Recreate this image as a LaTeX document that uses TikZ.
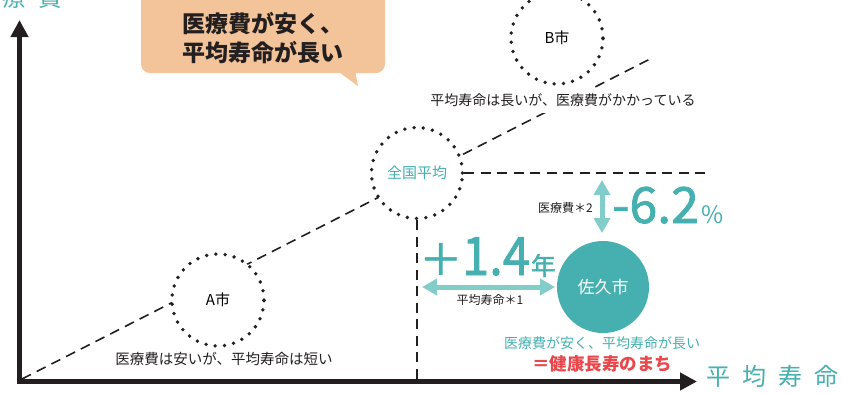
\documentclass[tikz,border=0pt]{standalone}
\usepackage{fontspec}
\usepackage{graphicx}
\setmainfont{Noto Sans CJK JP}
\newfontfamily\numfont[FakeBold=1.6]{Noto Sans CJK JP}
\usetikzlibrary{arrows.meta}
\pgfdeclarelayer{bg}
\pgfsetlayers{bg,main}
\definecolor{tealc}{HTML}{45B0AF}
\definecolor{lteal}{HTML}{80CDC9}
\definecolor{peach}{HTML}{F3C399}
\definecolor{redc}{HTML}{E8474C}
\definecolor{ink}{HTML}{231F20}
\newcommand{\fs}[1]{\fontsize{#1}{#1}\selectfont}
\begin{document}
\begin{tikzpicture}[x=1pt,y=-1pt,
  axisline/.style={line width=4.5pt, draw=ink, line join=miter,
    {Triangle[length=17pt,width=17pt]}-{Triangle[length=17pt,width=17pt]}},
  dashln/.style={draw=ink, line width=1.6pt, dash pattern=on 10pt off 6.5pt},
  dotcirc/.style={circle, minimum size=92pt, inner sep=0pt, draw=ink, line width=3.8pt,
    dash pattern=on 0pt off 9.3pt, line cap=round, fill=white, font=\fs{15}},
  lbl/.style={inner sep=0pt, text=ink, font=\fs{14}},
  small/.style={inner sep=0pt, text=ink, font=\fs{12}},
  tarrow/.style={draw=lteal, line width=5pt,
    {Triangle[length=15pt,width=16pt]}-{Triangle[length=15pt,width=16pt]}},
]
\useasboundingbox (0,0) rectangle (842,392);

% speech bubble
\node[fill=peach, rounded corners=9pt, minimum width=244pt, minimum height=83pt, inner sep=0pt] (bubble) at (263,31.5) {};
\fill[peach] (336,70) -- (358,86) -- (355,70) -- cycle;
\node[inner sep=0pt, align=center, font=\fs{23}\bfseries, text=ink] (bubtext) at (263,38)
  {医療費が安く、\\[6pt]平均寿命が長い};

% axes
\coordinate (corner) at (19.5,381.5);
\coordinate (ytip) at (19.5,20);
\coordinate (xtip) at (697,381.5);
\draw[axisline] (ytip) -- (corner) -- (xtip);
\node[anchor=base east, inner sep=0pt, text=tealc, font=\fs{24}] (ylab) at (63,6.5)
  {医\hspace{12pt}療\hspace{12pt}費};
\node[anchor=base west, inner sep=0pt, text=tealc, font=\fs{24}] (xlab) at (706,385.5)
  {平\hspace{12pt}均\hspace{12pt}寿\hspace{12pt}命};

% circles
\node[dotcirc] (B) at (557,38) {B市};
\node[dotcirc, minimum size=91pt, text=tealc] (zk) at (417,173) {全国平均};
\node[dotcirc] (A) at (218,300) {A市};
\node[circle, minimum size=92pt, inner sep=0pt, fill=tealc, text=white, font=\fs{17}] (saku) at (603,287) {佐久市};

% labels
\node[lbl, fill=white, inner sep=6pt] (btxt) at (563,100) {平均寿命は長いが、医療費がかかっている};
\node[lbl, font=\fs{14.5}] (atxt) at (224,359) {医療費は安いが、平均寿命は短い};
\node[lbl, text=tealc] (stxt) at (602,343) {医療費が安く、平均寿命が長い};
\node[inner sep=0pt, text=redc, font=\fs{17.5}\bfseries] (stxt2) at (602,364) {＝健康長寿のまち};
\node[small] (lifelbl) at (490,300) {平均寿命＊1};
\node[small, anchor=east] (costlbl) at (593,208) {医療費＊2};
\node[anchor=base west, inner sep=0pt, text=tealc, font=\fs{50}\numfont] (costval) at (612,223)
  {-6.2\kern3pt{\fs{24}\normalfont\%}};
\node[anchor=base west, inner sep=0pt, text=tealc, font=\fs{53}\numfont] (lifeval) at (419,275)
  {{\fs{43}＋}\scalebox{0.92}[1]{1.4}\kern1pt{\fs{25}年}};

% arrows
\coordinate (va1) at (602,180);
\coordinate (va2) at (602,233);
\coordinate (ha1) at (422,287);
\coordinate (ha2) at (555,287);
\draw[tarrow] (va1) -- (va2);
\draw[tarrow] (ha1) -- (ha2);

% dashed lines
\coordinate (o) at (22,379);
\coordinate (dend) at (650,59);
\coordinate (hend) at (705,173);
\begin{pgfonlayer}{bg}
\draw[dashln] (o) -- (dend);
\draw[dashln] (zk.east) -- (hend);
\draw[dashln] (zk.south) -- (zk.south |- corner);
\end{pgfonlayer}
\end{tikzpicture}
\end{document}
